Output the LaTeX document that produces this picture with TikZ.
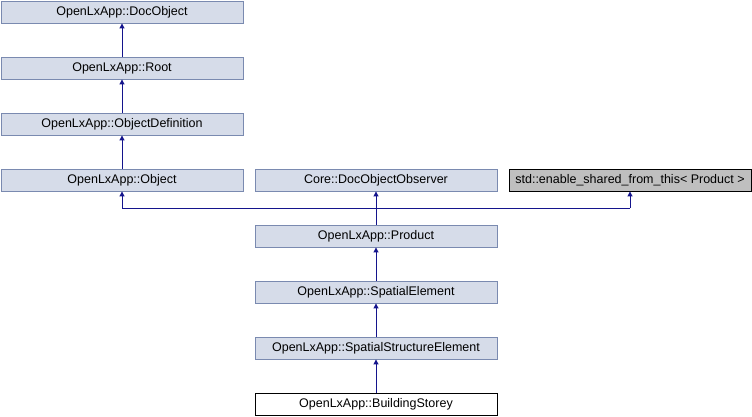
\documentclass[tikz,border=0pt]{standalone}
\usepackage{fontspec}
\setmainfont{Liberation Sans}
\usetikzlibrary{arrows.meta}
\definecolor{docfill}{RGB}{214,220,233}
\definecolor{docdraw}{RGB}{122,138,176}
\definecolor{extfill}{RGB}{191,191,191}
\definecolor{edgecol}{RGB}{20,20,140}
\tikzset{
  cls/.style={draw=docdraw, fill=docfill, line width=0.9bp, minimum width=242bp, minimum height=22bp, inner sep=0pt, font=\fontsize{12.5bp}{14bp}\selectfont},
  ext/.style={cls, draw=black, fill=extfill},
  focus/.style={cls, draw=black, fill=white},
  inh/.style={draw=edgecol, line width=1bp, -{Triangle[width=5bp,length=5bp]}},
  ln/.style={draw=edgecol, line width=1bp}
}
\begin{document}
\begin{tikzpicture}[x=1bp,y=1bp]
\useasboundingbox (0,0) rectangle (752,416);
\node[cls] (doc) at (122,404) {OpenLxApp::DocObject};
\node[cls] (root) at (122,348) {OpenLxApp::Root};
\node[cls] (odef) at (122,292) {OpenLxApp::ObjectDefinition};
\node[cls] (obj) at (122,236) {OpenLxApp::Object};
\node[cls] (core) at (376,236) {Core::DocObjectObserver};
\node[ext] (std) at (630,236) {std::enable\_shared\_from\_this< Product >};
\node[cls] (prod) at (376,180) {OpenLxApp::Product};
\node[cls] (spel) at (376,124) {OpenLxApp::SpatialElement};
\node[cls] (sse) at (376,68) {OpenLxApp::SpatialStructureElement};
\node[focus] (bs) at (376,12) {OpenLxApp::BuildingStorey};
\draw[inh] (root) -- (doc);
\draw[inh] (odef) -- (root);
\draw[inh] (obj) -- (odef);
\coordinate (j) at (376,208);
\coordinate (jl) at (obj.south |- j);
\coordinate (jr) at (std.south |- j);
\draw[ln] (prod.north) -- (j);
\draw[ln] (jl) -- (jr);
\draw[inh] (jl) -- (obj.south);
\draw[inh] (j) -- (core.south);
\draw[inh] (jr) -- (std.south);
\draw[inh] (spel) -- (prod);
\draw[inh] (sse) -- (spel);
\draw[inh] (bs) -- (sse);
\end{tikzpicture}
\end{document}
